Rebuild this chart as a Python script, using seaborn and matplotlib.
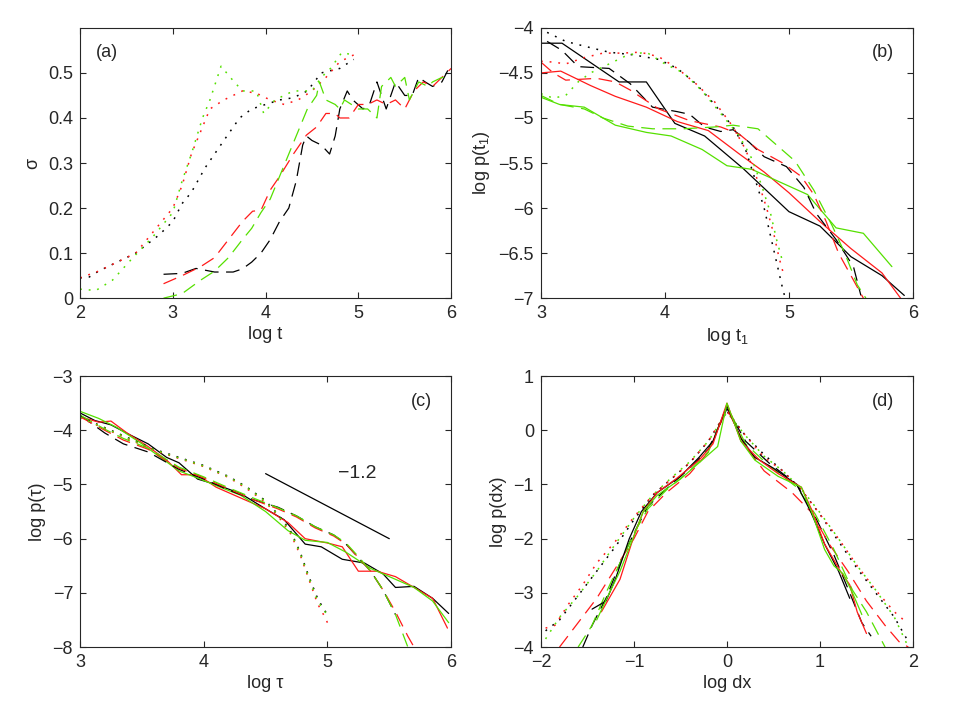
import numpy as np
import pandas as pd
import matplotlib
matplotlib.use('Agg')
import matplotlib.pyplot as plt
import seaborn as sns

# cores das tres series (estilo MATLAB)
K = 'black'
R = '#ff1a1a'
G = '#55e000'

# ---------- painel (a): sigma vs log t ----------
a_dot_k_x = [2.0, 2.1, 2.2, 2.4, 2.6, 2.85, 3.0, 3.1, 3.2, 3.35, 3.55, 3.72, 3.85, 4.0, 4.15, 4.3, 4.45, 4.6, 4.8, 4.95]
a_dot_k_y = [0.045, 0.047, 0.06, 0.08, 0.10, 0.14, 0.17, 0.21, 0.235, 0.29, 0.35, 0.40, 0.42, 0.43, 0.44, 0.445, 0.46, 0.50, 0.51, 0.53]
a_dot_r_x = [2.0, 2.2, 2.4, 2.6, 2.8, 3.0, 3.1, 3.2, 3.3, 3.4, 3.55, 3.75, 3.9, 4.05, 4.2, 4.35, 4.5, 4.65, 4.8, 4.95]
a_dot_r_y = [0.045, 0.06, 0.08, 0.10, 0.15, 0.20, 0.25, 0.32, 0.37, 0.42, 0.44, 0.46, 0.455, 0.44, 0.43, 0.44, 0.46, 0.49, 0.525, 0.54]
a_dot_g_x = [2.0, 2.17, 2.35, 2.57, 2.78, 3.0, 3.1, 3.2, 3.32, 3.4, 3.52, 3.62, 3.75, 3.9, 3.98, 4.1, 4.3, 4.5, 4.6, 4.7, 4.82, 4.95]
a_dot_g_y = [0.02, 0.017, 0.04, 0.09, 0.135, 0.19, 0.26, 0.32, 0.40, 0.44, 0.515, 0.49, 0.46, 0.46, 0.41, 0.44, 0.46, 0.46, 0.49, 0.51, 0.545, 0.54]
a_dash_k_x = [2.9, 3.1, 3.25, 3.45, 3.65, 3.75, 3.85, 3.95, 4.05, 4.15, 4.25, 4.33, 4.4, 4.44, 4.5, 4.6, 4.69, 4.75, 4.8, 4.88, 4.94, 5.05, 5.12, 5.2, 5.3, 5.4, 5.5, 5.58, 5.65, 5.72, 5.8, 5.9, 6.0]
a_dash_k_y = [0.053, 0.055, 0.066, 0.058, 0.058, 0.065, 0.08, 0.10, 0.13, 0.17, 0.20, 0.26, 0.34, 0.36, 0.35, 0.34, 0.32, 0.36, 0.42, 0.46, 0.44, 0.42, 0.43, 0.48, 0.42, 0.48, 0.45, 0.45, 0.49, 0.48, 0.47, 0.48, 0.52]
a_dash_r_x = [2.9, 3.1, 3.3, 3.45, 3.6, 3.75, 3.86, 3.95, 4.05, 4.15, 4.3, 4.44, 4.55, 4.65, 4.75, 4.8, 4.9, 5.0, 5.1, 5.2, 5.3, 5.4, 5.5, 5.6, 5.7, 5.8, 5.9, 6.0]
a_dash_r_y = [0.032, 0.05, 0.07, 0.09, 0.13, 0.17, 0.193, 0.195, 0.24, 0.27, 0.32, 0.362, 0.38, 0.41, 0.41, 0.40, 0.40, 0.43, 0.43, 0.44, 0.43, 0.44, 0.42, 0.46, 0.48, 0.47, 0.49, 0.51]
a_dash_g_x = [2.9, 3.1, 3.3, 3.45, 3.6, 3.75, 3.85, 3.95, 4.05, 4.15, 4.25, 4.35, 4.45, 4.55, 4.58, 4.65, 4.75, 4.8, 4.85, 5.0, 5.1, 5.2, 5.25, 5.35, 5.4, 5.5, 5.55, 5.6, 5.65, 5.75, 5.8, 5.9, 6.0]
a_dash_g_y = [0.0, 0.01, 0.04, 0.06, 0.09, 0.13, 0.155, 0.19, 0.22, 0.27, 0.32, 0.37, 0.42, 0.45, 0.48, 0.44, 0.43, 0.42, 0.44, 0.42, 0.42, 0.40, 0.47, 0.49, 0.47, 0.49, 0.44, 0.46, 0.48, 0.47, 0.48, 0.49, 0.49]

# ---------- painel (b): log p(t1) vs log t1 ----------
b_sol_k_x = [3.0, 3.17, 3.63, 3.85, 4.08, 4.32, 4.63, 5.0, 5.25, 5.5, 5.75, 5.93]
b_sol_k_y = [-4.17, -4.17, -4.6, -4.6, -5.06, -5.2, -5.56, -6.04, -6.2, -6.54, -6.75, -6.97]
b_sol_r_x = [3.0, 3.16, 3.4, 3.6, 3.85, 4.1, 4.35, 4.6, 4.8, 5.0, 5.25, 5.5, 5.75, 5.9]
b_sol_r_y = [-4.5, -4.48, -4.64, -4.76, -4.88, -5.04, -5.14, -5.4, -5.6, -5.83, -6.15, -6.45, -6.72, -7.0]
b_sol_g_x = [3.0, 3.15, 3.35, 3.6, 3.85, 4.05, 4.3, 4.5, 4.7, 5.15, 5.38, 5.6, 5.83]
b_sol_g_y = [-4.77, -4.85, -4.88, -5.08, -5.16, -5.2, -5.35, -5.53, -5.57, -5.85, -6.22, -6.28, -6.65]
b_dash_k_x = [3.05, 3.17, 3.3, 3.55, 3.72, 3.9, 4.1, 4.2, 4.32, 4.45, 4.55, 4.68, 4.8, 4.98, 5.12, 5.22, 5.38, 5.52, 5.58]
b_dash_k_y = [-4.15, -4.25, -4.43, -4.45, -4.62, -4.88, -4.93, -4.96, -5.1, -5.15, -5.13, -5.27, -5.43, -5.54, -5.77, -6.06, -6.35, -6.65, -6.97]
b_dash_r_x = [3.0, 3.1, 3.2, 3.45, 3.6, 3.72, 3.95, 4.2, 4.45, 4.6, 4.75, 4.95, 5.1, 5.2, 5.3, 5.4, 5.5, 5.6]
b_dash_r_y = [-4.38, -4.5, -4.58, -4.56, -4.6, -4.69, -4.9, -5.03, -5.1, -5.18, -5.35, -5.5, -5.65, -5.85, -6.15, -6.5, -6.75, -7.0]
b_dash_g_x = [3.0, 3.15, 3.35, 3.5, 3.7, 3.9, 4.15, 4.4, 4.55, 4.75, 4.9, 5.05, 5.2, 5.35, 5.45, 5.55, 5.62]
b_dash_g_y = [-4.75, -4.85, -4.9, -5.0, -5.09, -5.12, -5.12, -5.1, -5.08, -5.12, -5.3, -5.48, -5.8, -6.2, -6.5, -6.85, -7.0]
b_dot_k_x = [3.05, 3.2, 3.4, 3.55, 3.75, 3.95, 4.1, 4.25, 4.4, 4.55, 4.65, 4.72, 4.8, 4.85, 4.9, 4.95, 4.97]
b_dot_k_y = [-4.05, -4.15, -4.22, -4.27, -4.3, -4.35, -4.45, -4.62, -4.85, -5.1, -5.35, -5.65, -6.0, -6.3, -6.6, -6.9, -7.0]
b_dot_r_x = [3.0, 3.1, 3.2, 3.35, 3.5, 3.65, 3.8, 3.95, 4.1, 4.25, 4.4, 4.55, 4.65, 4.75, 4.82, 4.88, 4.92, 4.95]
b_dot_r_y = [-4.37, -4.38, -4.4, -4.33, -4.28, -4.28, -4.27, -4.32, -4.45, -4.62, -4.82, -5.1, -5.35, -5.7, -6.0, -6.3, -6.55, -6.7]
b_dot_g_x = [3.0, 3.1, 3.2, 3.3, 3.4, 3.55, 3.7, 3.85, 4.0, 4.15, 4.3, 4.45, 4.6, 4.7, 4.78, 4.85, 4.9, 4.95]
b_dot_g_y = [-4.73, -4.78, -4.75, -4.6, -4.5, -4.4, -4.3, -4.27, -4.4, -4.5, -4.7, -4.95, -5.2, -5.45, -5.75, -6.05, -6.35, -6.6]

# ---------- painel (c): log p(tau) vs log tau ----------
c_sol_k_x = [3.0, 3.12, 3.25, 3.4, 3.55, 3.7, 3.8, 3.95, 4.1, 4.3, 4.5, 4.65, 4.82, 4.95, 5.12, 5.3, 5.45, 5.55, 5.7, 5.85, 5.98]
c_sol_k_y = [-3.68, -3.82, -3.9, -4.08, -4.25, -4.5, -4.6, -4.9, -5.0, -5.17, -5.45, -5.65, -6.1, -6.15, -6.38, -6.45, -6.65, -6.9, -6.88, -7.1, -7.38]
c_sol_r_x = [3.0, 3.15, 3.25, 3.38, 3.55, 3.7, 3.82, 3.95, 4.1, 4.3, 4.5, 4.68, 4.82, 5.0, 5.12, 5.25, 5.4, 5.55, 5.7, 5.85, 5.97]
c_sol_r_y = [-3.75, -3.85, -3.83, -4.05, -4.3, -4.55, -4.82, -4.82, -5.05, -5.25, -5.45, -5.7, -6.0, -6.08, -6.15, -6.6, -6.6, -6.7, -6.9, -7.1, -7.65]
c_sol_g_x = [3.0, 3.15, 3.3, 3.5, 3.65, 3.8, 3.95, 4.1, 4.3, 4.5, 4.68, 4.82, 5.0, 5.15, 5.35, 5.5, 5.7, 5.85, 5.98]
c_sol_g_y = [-3.65, -3.78, -3.95, -4.25, -4.5, -4.75, -4.88, -5.02, -5.2, -5.5, -5.85, -6.03, -6.07, -6.25, -6.55, -6.7, -6.9, -7.15, -7.55]
c_dash_k_x = [3.0, 3.2, 3.35, 3.55, 3.8, 4.0, 4.2, 4.4, 4.6, 4.75, 4.9, 5.05, 5.15, 5.25, 5.35, 5.45, 5.55]
c_dash_k_y = [-3.72, -4.05, -4.25, -4.4, -4.72, -4.9, -5.1, -5.28, -5.42, -5.58, -5.78, -5.93, -6.1, -6.35, -6.6, -6.95, -7.4]
c_dash_r_x = [3.0, 3.2, 3.35, 3.55, 3.8, 4.0, 4.2, 4.4, 4.6, 4.75, 4.9, 5.05, 5.15, 5.25, 5.35, 5.45, 5.55, 5.65, 5.7]
c_dash_r_y = [-3.75, -4.0, -4.18, -4.35, -4.7, -4.88, -5.08, -5.28, -5.45, -5.6, -5.8, -5.95, -6.1, -6.35, -6.6, -6.95, -7.35, -7.8, -8.0]
c_dash_g_x = [3.0, 3.2, 3.35, 3.55, 3.8, 4.0, 4.2, 4.4, 4.6, 4.75, 4.9, 5.05, 5.15, 5.25, 5.35, 5.45, 5.55, 5.65]
c_dash_g_y = [-3.72, -3.98, -4.15, -4.33, -4.68, -4.86, -5.06, -5.25, -5.43, -5.58, -5.78, -5.93, -6.08, -6.33, -6.6, -6.95, -7.4, -8.0]
c_dot_k_x = [3.0, 3.2, 3.4, 3.6, 3.8, 4.0, 4.2, 4.35, 4.5, 4.6, 4.7, 4.78, 4.85, 4.92, 4.97, 5.0]
c_dot_k_y = [-3.75, -3.95, -4.15, -4.35, -4.5, -4.65, -4.85, -5.05, -5.3, -5.55, -5.85, -6.25, -6.7, -7.1, -7.3, -7.4]
c_dot_r_x = [3.0, 3.2, 3.4, 3.6, 3.8, 4.0, 4.2, 4.35, 4.5, 4.6, 4.7, 4.78, 4.85, 4.92, 4.98, 5.02]
c_dot_r_y = [-3.77, -3.97, -4.17, -4.37, -4.52, -4.67, -4.87, -5.08, -5.33, -5.58, -5.9, -6.3, -6.75, -7.2, -7.45, -7.65]
c_dot_g_x = [3.0, 3.2, 3.4, 3.6, 3.8, 4.0, 4.2, 4.35, 4.5, 4.6, 4.7, 4.78, 4.85, 4.92, 4.98, 5.02]
c_dot_g_y = [-3.76, -3.96, -4.16, -4.36, -4.51, -4.66, -4.86, -5.06, -5.31, -5.56, -5.87, -6.27, -6.72, -7.15, -7.35, -7.45]

# reta de referencia (inclinacao -1.2)
slope_x = [4.5, 5.5]
slope_y = [-4.8, -6.0]

# ---------- painel (d): log p(dx) vs log dx ----------
d_sol_k_x = [-1.45, -1.3, -1.2, -1.05, -0.92, -0.75, -0.5, -0.3, -0.15, 0.0, 0.15, 0.3, 0.5, 0.75, 0.9, 1.05, 1.2, 1.32]
d_sol_k_y = [-3.3, -3.15, -2.75, -2.0, -1.5, -1.15, -0.85, -0.5, -0.2, 0.45, -0.15, -0.5, -0.7, -1.0, -1.5, -2.1, -2.6, -3.1]
d_sol_r_x = [-1.35, -1.15, -1.0, -0.9, -0.75, -0.55, -0.3, -0.15, 0.0, 0.15, 0.35, 0.55, 0.8, 0.92, 1.05, 1.22, 1.32, 1.4, 1.5]
d_sol_r_y = [-3.35, -2.75, -1.95, -1.5, -1.15, -0.9, -0.55, -0.25, 0.5, -0.2, -0.55, -0.8, -1.05, -1.5, -2.1, -2.6, -2.85, -3.35, -3.75]
d_sol_g_x = [-1.4, -1.25, -1.15, -1.0, -0.9, -0.75, -0.5, -0.3, -0.1, 0.0, 0.15, 0.3, 0.55, 0.8, 0.92, 1.05, 1.15, 1.25, 1.35, 1.45]
d_sol_g_y = [-3.5, -2.95, -2.6, -1.95, -1.5, -1.2, -0.9, -0.6, -0.3, 0.5, -0.2, -0.55, -0.85, -1.05, -1.55, -2.2, -2.5, -2.65, -3.0, -3.4]
d_dash_k_x = [-1.55, -1.45, -1.3, -1.15, -1.0, -0.85, -0.6, -0.4, -0.2, 0.0, 0.2, 0.45, 0.75, 0.95, 1.15, 1.32, 1.45, 1.55]
d_dash_k_y = [-4.0, -3.6, -3.1, -2.45, -1.9, -1.4, -1.0, -0.7, -0.35, 0.4, -0.2, -0.6, -1.0, -1.6, -2.3, -3.0, -3.55, -3.8]
d_dash_r_x = [-1.8, -1.6, -1.4, -1.2, -1.0, -0.85, -0.65, -0.4, -0.2, 0.0, 0.2, 0.4, 0.7, 0.9, 1.1, 1.3, 1.5, 1.7, 1.85, 1.95]
d_dash_r_y = [-4.0, -3.55, -3.1, -2.55, -2.0, -1.5, -1.15, -0.8, -0.4, 0.4, -0.3, -0.75, -1.15, -1.5, -2.1, -2.6, -3.15, -3.6, -3.9, -4.0]
d_dash_g_x = [-1.6, -1.45, -1.3, -1.15, -1.0, -0.85, -0.65, -0.4, -0.2, 0.0, 0.2, 0.45, 0.75, 0.95, 1.15, 1.35, 1.5, 1.7]
d_dash_g_y = [-4.0, -3.6, -3.0, -2.45, -1.9, -1.45, -1.1, -0.75, -0.4, 0.45, -0.25, -0.65, -1.05, -1.55, -2.2, -2.95, -3.35, -4.0]
d_dot_k_x = [-1.95, -1.8, -1.6, -1.4, -1.2, -1.0, -0.8, -0.6, -0.4, -0.2, 0.0, 0.2, 0.4, 0.6, 0.8, 1.0, 1.2, 1.4, 1.6, 1.8, 1.95]
d_dot_k_y = [-3.7, -3.5, -3.05, -2.6, -2.15, -1.65, -1.2, -0.9, -0.6, -0.2, 0.35, -0.1, -0.45, -0.75, -1.1, -1.55, -2.05, -2.55, -3.0, -3.45, -3.9]
d_dot_r_x = [-1.95, -1.85, -1.7, -1.55, -1.4, -1.2, -1.0, -0.8, -0.6, -0.4, -0.2, 0.0, 0.2, 0.4, 0.6, 0.8, 1.0, 1.2, 1.4, 1.6, 1.8, 1.9]
d_dot_r_y = [-3.65, -3.6, -3.2, -2.85, -2.45, -2.05, -1.6, -1.2, -0.9, -0.6, -0.2, 0.35, -0.1, -0.5, -0.75, -1.1, -1.55, -2.0, -2.5, -2.95, -3.35, -3.5]
d_dot_g_x = [-1.95, -1.8, -1.6, -1.4, -1.2, -1.0, -0.8, -0.6, -0.4, -0.2, 0.0, 0.2, 0.4, 0.6, 0.8, 1.0, 1.2, 1.4, 1.6, 1.8, 1.95]
d_dot_g_y = [-3.85, -3.45, -3.05, -2.6, -2.1, -1.62, -1.2, -0.88, -0.58, -0.2, 0.33, -0.1, -0.48, -0.75, -1.08, -1.52, -2.0, -2.5, -2.95, -3.45, -4.0]

# estilos de linha
SOLIDO = '-'
TRACO = (0, (11, 6))
PONTO = (0, (1.2, 4.5))
FS = 13

sns.set_style('ticks')
plt.rcParams['font.family'] = ['Liberation Sans', 'DejaVu Sans']
plt.rcParams['mathtext.fontset'] = 'custom'
plt.rcParams['mathtext.rm'] = 'Liberation Sans'
plt.rcParams['mathtext.it'] = 'Liberation Sans:italic'
plt.rcParams['font.size'] = FS
plt.rcParams['axes.linewidth'] = 0.8
plt.rcParams['xtick.direction'] = 'in'
plt.rcParams['ytick.direction'] = 'in'

fig = plt.figure(figsize=(9.54, 7.15), dpi=100)
ax_a = fig.add_axes([0.0839, 0.583, 0.389, 0.378])
ax_b = fig.add_axes([0.567, 0.583, 0.390, 0.378])
ax_c = fig.add_axes([0.0839, 0.095, 0.389, 0.379])
ax_d = fig.add_axes([0.567, 0.095, 0.390, 0.379])


def desenha(ax, x, y, cor, estilo, lw=0.9):
    df = pd.DataFrame({'x': x, 'y': y})
    sns.lineplot(data=df, x='x', y='y', ax=ax, color=cor, linestyle=estilo,
                 linewidth=lw, sort=False, estimator=None, errorbar=None)


# Painel (a)
for x, y, c, s in [(a_dot_k_x, a_dot_k_y, K, PONTO), (a_dot_r_x, a_dot_r_y, R, PONTO),
                   (a_dot_g_x, a_dot_g_y, G, PONTO), (a_dash_k_x, a_dash_k_y, K, TRACO),
                   (a_dash_r_x, a_dash_r_y, R, TRACO), (a_dash_g_x, a_dash_g_y, G, TRACO)]:
    desenha(ax_a, x, y, c, s, lw=1.1 if s == PONTO else 0.9)
ax_a.set_xlim(2, 6)
ax_a.set_ylim(0, 0.6)
ax_a.set_xticks([2, 3, 4, 5, 6])
ax_a.set_yticks([0, 0.1, 0.2, 0.3, 0.4, 0.5])
ax_a.set_yticklabels(['0', '0.1', '0.2', '0.3', '0.4', '0.5'])
ax_a.set_xlabel('log t')
ax_a.set_ylabel('σ')
ax_a.text(0.073, 0.91, '(a)', transform=ax_a.transAxes, ha='center', va='center')

# Painel (b)
for x, y, c, s in [(b_sol_k_x, b_sol_k_y, K, SOLIDO), (b_sol_r_x, b_sol_r_y, R, SOLIDO),
                   (b_sol_g_x, b_sol_g_y, G, SOLIDO), (b_dash_k_x, b_dash_k_y, K, TRACO),
                   (b_dash_r_x, b_dash_r_y, R, TRACO), (b_dash_g_x, b_dash_g_y, G, TRACO),
                   (b_dot_k_x, b_dot_k_y, K, PONTO), (b_dot_r_x, b_dot_r_y, R, PONTO),
                   (b_dot_g_x, b_dot_g_y, G, PONTO)]:
    desenha(ax_b, x, y, c, s, lw=1.1 if s == PONTO else 0.9)
ax_b.set_xlim(3, 6)
ax_b.set_ylim(-7, -4)
ax_b.set_xticks([3, 4, 5, 6])
ax_b.set_yticks([-7, -6.5, -6, -5.5, -5, -4.5, -4])
ax_b.set_yticklabels(['−7', '−6.5', '−6', '−5.5', '−5', '−4.5', '−4'])
ax_b.set_xlabel('log t$_1$')
ax_b.set_ylabel('log p(t$_1$)')
ax_b.text(0.92, 0.91, '(b)', transform=ax_b.transAxes, ha='center', va='center')

# Painel (c)
for x, y, c, s in [(c_sol_k_x, c_sol_k_y, K, SOLIDO), (c_sol_r_x, c_sol_r_y, R, SOLIDO),
                   (c_sol_g_x, c_sol_g_y, G, SOLIDO), (c_dash_k_x, c_dash_k_y, K, TRACO),
                   (c_dash_r_x, c_dash_r_y, R, TRACO), (c_dash_g_x, c_dash_g_y, G, TRACO),
                   (c_dot_k_x, c_dot_k_y, K, PONTO), (c_dot_r_x, c_dot_r_y, R, PONTO),
                   (c_dot_g_x, c_dot_g_y, G, PONTO)]:
    desenha(ax_c, x, y, c, s, lw=1.1 if s == PONTO else 0.9)
desenha(ax_c, slope_x, slope_y, K, SOLIDO)
ax_c.text(5.24, -4.79, '−1.2', ha='center', va='center', fontsize=FS + 1)
ax_c.set_xlim(3, 6)
ax_c.set_ylim(-8, -3)
ax_c.set_xticks([3, 4, 5, 6])
ax_c.set_yticks([-8, -7, -6, -5, -4, -3])
ax_c.set_xlabel('log τ')
ax_c.set_ylabel('log p(τ)')
ax_c.text(0.92, 0.905, '(c)', transform=ax_c.transAxes, ha='center', va='center')

# Painel (d)
for x, y, c, s in [(d_dot_k_x, d_dot_k_y, K, PONTO), (d_dot_r_x, d_dot_r_y, R, PONTO),
                   (d_dot_g_x, d_dot_g_y, G, PONTO), (d_dash_k_x, d_dash_k_y, K, TRACO),
                   (d_dash_r_x, d_dash_r_y, R, TRACO), (d_dash_g_x, d_dash_g_y, G, TRACO),
                   (d_sol_k_x, d_sol_k_y, K, SOLIDO), (d_sol_r_x, d_sol_r_y, R, SOLIDO),
                   (d_sol_g_x, d_sol_g_y, G, SOLIDO)]:
    desenha(ax_d, x, y, c, s, lw=1.1 if s == PONTO else 0.9)
ax_d.set_xlim(-2, 2)
ax_d.set_ylim(-4, 1)
ax_d.set_xticks([-2, -1, 0, 1, 2])
ax_d.set_yticks([-4, -3, -2, -1, 0, 1])
ax_d.set_xlabel('log dx')
ax_d.set_ylabel('log p(dx)')
ax_d.text(0.92, 0.905, '(d)', transform=ax_d.transAxes, ha='center', va='center')

for ax in [ax_a, ax_b, ax_c, ax_d]:
    ax.tick_params(top=True, right=True, length=4, width=0.8, labelsize=FS, pad=5)
    for sp in ax.spines.values():
        sp.set_visible(True)
        sp.set_linewidth(0.8)
    ax.xaxis.label.set_size(FS)
    ax.yaxis.label.set_size(FS)
    ax.xaxis.labelpad = 3
    ax.yaxis.labelpad = 5

fig.savefig('out.png', dpi=100)
